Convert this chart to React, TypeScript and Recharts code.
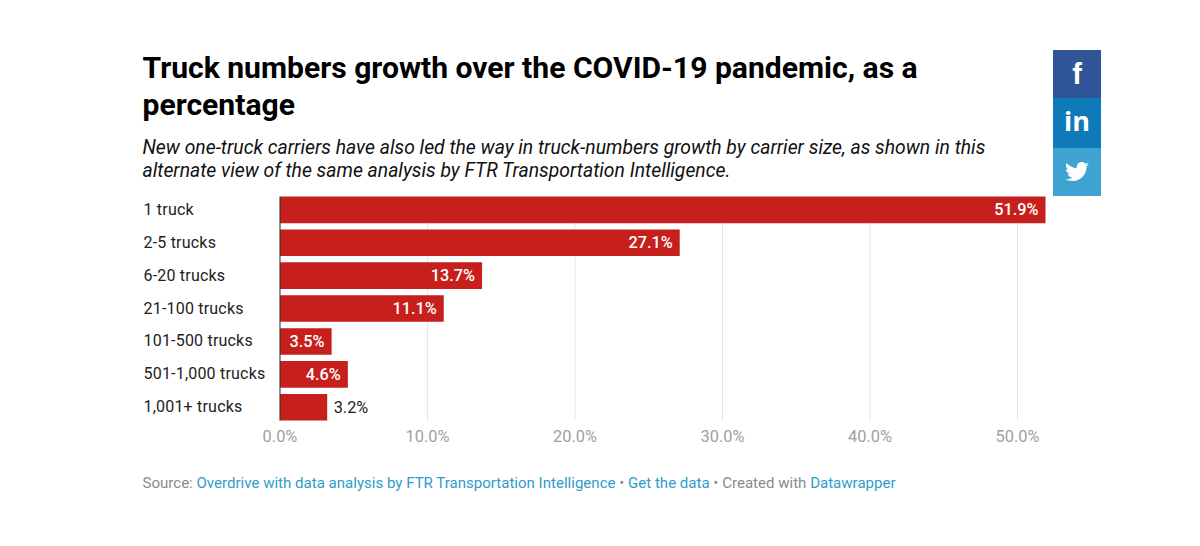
import { BarChart, Bar, XAxis, YAxis, CartesianGrid, LabelList } from "recharts";

const categories = ["1 truck", "2-5 trucks", "6-20 trucks", "21-100 trucks", "101-500 trucks", "501-1,000 trucks", "1,001+ trucks"];
const growth = [51.9, 27.1, 13.7, 11.1, 3.5, 4.6, 3.2];
const xTicks = [0, 10, 20, 30, 40, 50];

const data = categories.map((name, i) => ({ name, growth: growth[i] }));

const FONT = "Roboto, sans-serif";
const LEFT = 280;
const RIGHT = 1045.5;
const TOP = 196.7;
const BOTTOM = 420.7;
const Y_AXIS_WIDTH = 137;
const X_AXIS_HEIGHT = 30;

function CategoryTick({ y, payload }: any) {
  return (
    <text x={143.5} y={y} dy={4.8} fontSize={16} fontFamily={FONT} fill="#222" letterSpacing={0.2}>
      {payload.value}
    </text>
  );
}

function ValueLabel({ x, y, width, height, value }: any) {
  // small last bar carries its label outside
  const outside = value < 3.4;
  return (
    <text
      x={outside ? x + width + 6.5 : x + width - 7}
      y={y + height / 2}
      dy={5.5}
      textAnchor={outside ? "start" : "end"}
      fontSize={16.3}
      fontWeight={outside ? 400 : 500}
      fontFamily={FONT}
      fill={outside ? "#222" : "#fff"}
    >
      {value.toFixed(1)}%
    </text>
  );
}

function Social() {
  const box = { position: "absolute", left: 1053, width: 48, display: "flex", alignItems: "center", justifyContent: "center", color: "#fff" } as const;
  return (
    <>
      <div style={{ ...box, top: 50, height: 48, background: "#2f5597", fontFamily: "'Liberation Sans', sans-serif", fontWeight: 700, fontSize: 29 }}>f</div>
      <div style={{ ...box, top: 98, height: 50, background: "#0f7ab8" }}>
        <span style={{ fontFamily: "'Open Sans', sans-serif", fontWeight: 700, fontSize: 27, position: "relative", top: -3 }}>in</span>
      </div>
      <div style={{ ...box, top: 148, height: 48, background: "#3fa3d2" }}>
        <svg width="24" height="20" viewBox="0 0 24 20">
          <path
            fill="#fff"
            d="M24 2.4c-.9.4-1.8.7-2.8.8 1-.6 1.8-1.6 2.2-2.7-1 .6-2 1-3.100 1.200C19.300.7 18 0 16.600 0c-2.700 0-4.900 2.200-4.900 4.900 0 .4 0 .8.100 1.100C7.700 5.800 4.100 3.900 1.700.9c-.4.700-.7 1.600-.7 2.500 0 1.700.9 3.200 2.200 4.100-.8 0-1.600-.2-2.200-.6v.1c0 2.400 1.700 4.400 3.900 4.800-.4.100-.8.200-1.300.2-.3 0-.6 0-.9-.1.600 2 2.400 3.400 4.600 3.400-1.700 1.300-3.800 2.100-6.100 2.100-.4 0-.8 0-1.200-.1C2.200 18.200 4.800 19 7.500 19c9.100 0 14-7.500 14-14v-.6c1-.7 1.800-1.500 2.500-2z"
          />
        </svg>
      </div>
    </>
  );
}

export default function App() {
  return (
    <div style={{ position: "absolute", left: 0, top: 0, width: 1200, height: 546, background: "#fff", overflow: "hidden", fontFamily: FONT }}>
      <div style={{ position: "absolute", left: 142.5, top: 50, width: 860, fontSize: 30.1, lineHeight: "36.5px", fontWeight: 700, color: "#000" }}>
        Truck numbers growth over the COVID-19 pandemic, as a<br />percentage
      </div>
      <div style={{ position: "absolute", left: 142.5, top: 136, width: 900, fontSize: 19.34, lineHeight: "23px", fontStyle: "italic", color: "#111" }}>
        New one-truck carriers have also led the way in truck-numbers growth by carrier size, as shown in this<br />
        alternate view of the same analysis by FTR Transportation Intelligence.
      </div>
      <div style={{ position: "absolute", left: 0, top: 0 }}>
        <BarChart
          width={1200}
          height={546}
          data={data}
          layout="vertical"
          margin={{ left: LEFT - Y_AXIS_WIDTH, right: 1200 - RIGHT, top: TOP, bottom: 546 - BOTTOM - X_AXIS_HEIGHT }}
        >
          <CartesianGrid horizontal={false} stroke="#e6e6e6" syncWithTicks />
          <XAxis
            type="number"
            orientation="bottom"
            domain={[0, 51.9]}
            ticks={xTicks}
            tickFormatter={(v: number) => `${v.toFixed(1)}%`}
            axisLine={false}
            tickLine={false}
            tickMargin={4}
            height={X_AXIS_HEIGHT}
            interval={0}
            tick={{ fontSize: 16.4, fontFamily: FONT, fill: "#a0a0a0" }}
          />
          <YAxis
            type="category"
            dataKey="name"
            width={Y_AXIS_WIDTH}
            padding={{ top: -3.1, bottom: -3.1 }}
            axisLine={{ stroke: "#333", strokeWidth: 1 }}
            tickLine={false}
            interval={0}
            tick={<CategoryTick />}
          />
          <Bar dataKey="growth" fill="#c61f1c" barSize={26.6} isAnimationActive={false}>
            <LabelList dataKey="growth" content={<ValueLabel />} />
          </Bar>
        </BarChart>
      </div>
      <div style={{ position: "absolute", left: 142.5, top: 475, fontSize: 15.06, lineHeight: "17px", color: "#8a8a8a", whiteSpace: "nowrap" }}>
        Source: <span style={{ color: "#2f9ccb" }}>Overdrive with data analysis by FTR Transportation Intelligence</span>
        {" • "}
        <span style={{ color: "#2f9ccb" }}>Get the data</span>
        {" • Created with "}
        <span style={{ color: "#2f9ccb" }}>Datawrapper</span>
      </div>
      <Social />
    </div>
  );
}
